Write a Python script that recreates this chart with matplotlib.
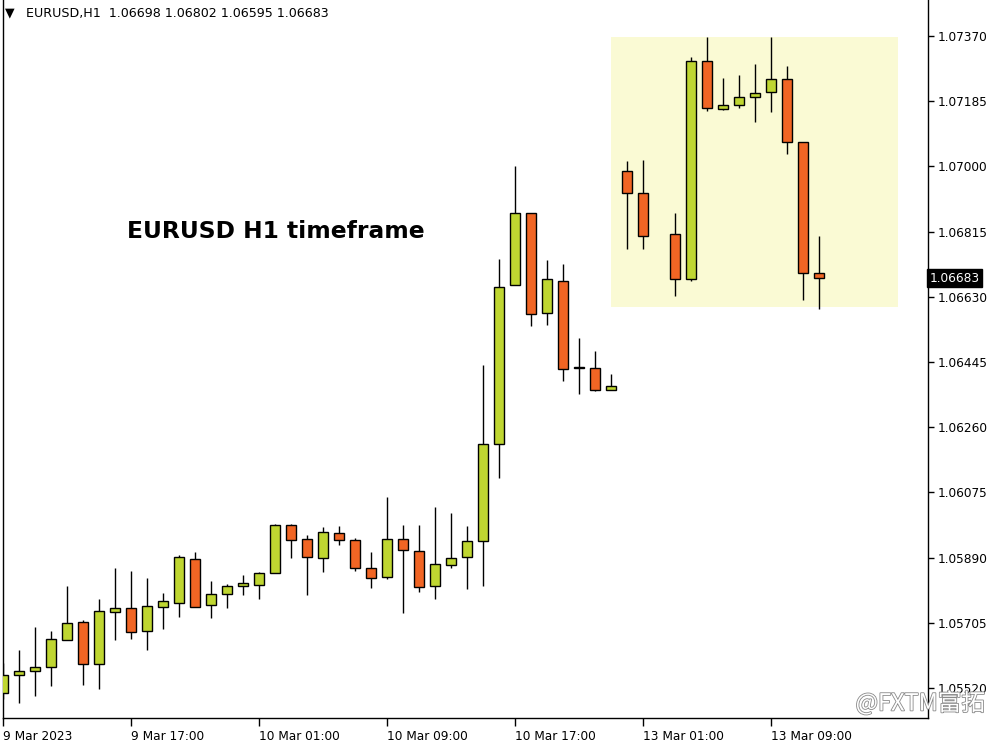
import matplotlib
matplotlib.use("Agg")
import matplotlib.pyplot as plt
import matplotlib.patheffects as pe
from matplotlib.patches import Rectangle
import numpy as np

# ---------------- data ----------------
# hourly candles, one per x slot (None = empty slot)
opens = [1.05505, 1.05556, 1.05569, 1.05579, 1.05655, 1.05706, 1.05587, 1.05735, 1.05746, 1.05681,
         1.05749, 1.05760, 1.05885, 1.05755, 1.05786, 1.05809, 1.05811, 1.05846, 1.05982, 1.05942,
         1.05888, 1.05959, 1.05939, 1.05860, 1.05834, 1.05942, 1.05908, 1.05809, 1.05868, 1.05891,
         1.05936, 1.06212, 1.06663, 1.06867, 1.06583, 1.06674, 1.06428, 1.06427, 1.06365, 1.06986,
         1.06924, None, 1.06808, 1.06680, 1.07298, 1.07164, 1.07174, 1.07196, 1.07210, 1.07247,
         1.07069, 1.06698]
highs = [1.05590, 1.05627, 1.05693, 1.05681, 1.05809, 1.05712, 1.05772, 1.05860, 1.05851, 1.05831,
         1.05789, 1.05897, 1.05905, 1.05823, 1.05814, 1.05840, 1.05848, 1.05986, 1.05986, 1.05953,
         1.05976, 1.05980, 1.05945, 1.05906, 1.06061, 1.05982, 1.05982, 1.06033, 1.06016, 1.05979,
         1.06437, 1.06737, 1.07001, 1.06867, 1.06734, 1.06722, 1.06512, 1.06476, 1.06410, 1.07016,
         1.07018, None, 1.06868, 1.07310, 1.07367, 1.07250, 1.07259, 1.07290, 1.07367, 1.07284,
         1.07069, 1.06802]
lows = [1.05488, 1.05477, 1.05498, 1.05527, 1.05655, 1.05529, 1.05518, 1.05657, 1.05660, 1.05629,
        1.05688, 1.05722, 1.05749, 1.05718, 1.05746, 1.05785, 1.05773, 1.05846, 1.05888, 1.05783,
        1.05850, 1.05925, 1.05851, 1.05805, 1.05830, 1.05732, 1.05792, 1.05772, 1.05860, 1.05800,
        1.05810, 1.06116, 1.06663, 1.06546, 1.06549, 1.06390, 1.06353, 1.06362, 1.06365, 1.06765,
        1.06767, None, 1.06633, 1.06674, 1.07157, 1.07159, 1.07165, 1.07125, 1.07154, 1.07034,
        1.06620, 1.06595]
closes = [1.05556, 1.05567, 1.05579, 1.05658, 1.05704, 1.05587, 1.05738, 1.05746, 1.05678, 1.05752,
          1.05766, 1.05891, 1.05751, 1.05786, 1.05809, 1.05817, 1.05846, 1.05982, 1.05939, 1.05891,
          1.05962, 1.05939, 1.05860, 1.05831, 1.05942, 1.05911, 1.05806, 1.05871, 1.05888, 1.05936,
          1.06212, 1.06657, 1.06867, 1.06581, 1.06680, 1.06424, 1.06427, 1.06365, 1.06376, 1.06926,
          1.06802, None, 1.06680, 1.07298, 1.07165, 1.07174, 1.07196, 1.07208, 1.07247, 1.07069,
          1.06697, 1.06683]

x_tick_idx = [0, 8, 16, 24, 32, 40, 48]
x_tick_labels = ["9 Mar 2023", "9 Mar 17:00", "10 Mar 01:00", "10 Mar 09:00",
                 "10 Mar 17:00", "13 Mar 01:00", "13 Mar 09:00"]
y_ticks = [1.05520, 1.05705, 1.05890, 1.06075, 1.06260, 1.06445,
           1.06630, 1.06815, 1.07000, 1.07185, 1.07370]
last_price = 1.06683
header = "EURUSD,H1  1.06698 1.06802 1.06595 1.06683"
title = "EURUSD H1 timeframe"
highlight_x = (38.0, 55.94)
highlight_y = (1.06601, 1.07367)

# ---------------- plot ----------------
W, H = 1000, 750
fig = plt.figure(figsize=(W / 100, H / 100), dpi=100)
ax = fig.add_axes([3 / W, 1 - 718 / H, 925 / W, 718 / H])

GREEN = "#BFD631"
ORANGE = "#F16524"

ax.add_patch(Rectangle((highlight_x[0], highlight_y[0]),
                       highlight_x[1] - highlight_x[0], highlight_y[1] - highlight_y[0],
                       facecolor="#FAFAD4", edgecolor="none", zorder=0))

idx = [i for i, o in enumerate(opens) if o is not None]
o = np.array([opens[i] for i in idx])
h = np.array([highs[i] for i in idx])
l = np.array([lows[i] for i in idx])
c = np.array([closes[i] for i in idx])
xs = np.array(idx, dtype=float)

ax.vlines(xs, l, h, color="black", linewidth=1.0, zorder=2)
bottoms = np.minimum(o, c)
heights = np.maximum(np.abs(c - o), 0.00003)
colors = [GREEN if cc > oo else ORANGE for oo, cc in zip(o, c)]
ax.bar(xs, heights, bottom=bottoms, width=0.6, color=colors,
       edgecolor="black", linewidth=1.0, zorder=3)

ax.set_xlim(0, 925 / 16)
ax.set_ylim(1.05435, 1.074722)

ax.spines["top"].set_visible(False)
for s in ["left", "right", "bottom"]:
    ax.spines[s].set_linewidth(1.0)
    ax.spines[s].set_color("black")

ax.yaxis.tick_right()
ax.set_yticks(y_ticks)
ax.set_yticklabels([f"{v:.5f}" for v in y_ticks])
ax.tick_params(axis="y", direction="out", length=4, width=1, pad=3,
               labelsize=8.7, colors="black")

ax.set_xticks(x_tick_idx)
ax.set_xticklabels(x_tick_labels, ha="left")
ax.tick_params(axis="x", direction="out", length=6, width=1, pad=3,
               labelsize=8.7, colors="black")
for lbl in ax.get_xticklabels():
    lbl.set_horizontalalignment("left")

# current price marker on the price axis
ax.text(1.0015, last_price, f"{last_price:.5f}", transform=ax.get_yaxis_transform(),
        ha="left", va="center", fontsize=8.7, color="white", zorder=10,
        bbox=dict(boxstyle="square,pad=0.22", facecolor="black", edgecolor="black"))

# header text
fig.text(5 / W, 1 - 13 / H, "\u25BC", fontsize=9, ha="left", va="center", color="black")
fig.text(26 / W, 1 - 14 / H, header, fontsize=9.1, ha="left", va="center", color="black")

# annotation title
fig.text(275.5 / W, 1 - 231 / H, title, fontsize=16.8, fontweight="heavy",
         ha="center", va="center", color="black", family="DejaVu Sans")

# watermark
fig.text(985 / W, 1 - 703 / H, "@FXTM富拓", fontsize=17, ha="right", va="center",
         color="white", family=["Noto Sans CJK SC", "DejaVu Sans"], zorder=20,
         path_effects=[pe.withStroke(linewidth=1.2, foreground="#8a8a8a")])

fig.savefig("out.png", dpi=100, facecolor="white")
